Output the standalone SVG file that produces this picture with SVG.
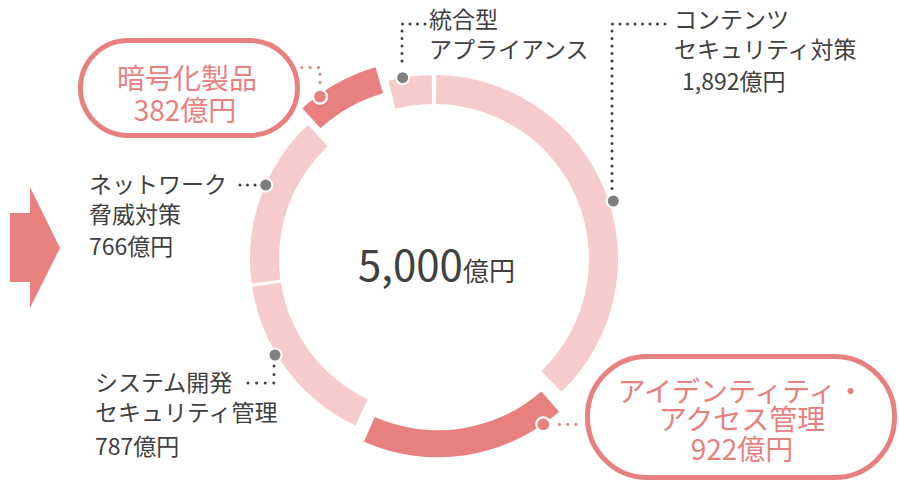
<svg xmlns="http://www.w3.org/2000/svg" width="899" height="482" viewBox="0 0 899 482">
<style>
.t{font-family:"Noto Sans CJK JP","Liberation Sans",sans-serif;fill:#404040;font-size:23px}
.p{font-family:"Noto Sans CJK JP","Liberation Sans",sans-serif;fill:#E98080;font-size:28px;text-anchor:middle}
.light{fill:#F6CBCB}
.dark{fill:#E98080}
.lg{fill:none;stroke:#404040;stroke-width:3;stroke-linecap:round;stroke-dasharray:0 7.5}
.lp{fill:none;stroke:#E98080;stroke-width:3.2;stroke-linecap:round;stroke-dasharray:0 8.3}
.mg{fill:#7F7F7F;stroke:#fff;stroke-width:2}
.mp{fill:#E98080;stroke:#fff;stroke-width:2.2}
.pill{fill:#fff;stroke:#E98080;stroke-width:5}
</style>
<rect width="899" height="482" fill="#fff"/>
<g id="arrow"><path class="dark" d="M10,213 H30 V187 L60,248 L30,308 V282 H10 Z"/></g>
<g id="ring">
<path id="seg-content" class="light" d="M436.25,75.01 A184,184 0 0 1 561.35,391.81 L541.28,370.88 A155,155 0 0 0 435.89,104.01 Z"/>
<path id="seg-identity" class="dark" d="M559.10,411.74 A184,184 0 0 1 363.95,441.79 L374.80,417.06 A157,157 0 0 0 541.32,391.43 Z"/>
<path id="seg-system" class="light" d="M355.36,425.35 A184,184 0 0 1 252.12,286.84 L280.78,282.45 A155,155 0 0 0 367.75,399.14 Z"/>
<path id="seg-network" class="light" d="M251.66,283.66 A184,184 0 0 1 307.81,125.08 L327.70,146.19 A155,155 0 0 0 280.39,279.77 Z"/>
<path id="seg-encryption" class="dark" d="M302.29,108.34 A184,184 0 0 1 375.58,67.21 L383.06,93.15 A157,157 0 0 0 320.53,128.24 Z"/>
<path id="seg-appliance" class="light" d="M388.24,80.78 A184,184 0 0 1 431.75,75.01 L432.11,104.01 A155,155 0 0 0 395.45,108.87 Z"/>
</g>
<g id="connectors">
<path class="lg" d="M425,24 H402 V68"/>
<path class="lg" d="M665,24 H612 V195"/>
<path class="lg" d="M240,185 H260"/>
<path class="lg" style="stroke-dasharray:0 8.6" d="M248,383 H274 V362"/>
<path class="lp" d="M293.5,67.5 H320 V90"/>
<path class="lp" d="M576,424.3 H552"/>
</g>
<g id="markers">
<circle class="mg" cx="402.7" cy="77.7" r="6.5"/>
<circle class="mg" cx="613.3" cy="201" r="6.5"/>
<circle class="mg" cx="265.7" cy="185" r="6.5"/>
<circle class="mg" cx="275" cy="355" r="6.5"/>
<circle class="mp" cx="320" cy="96.7" r="7"/>
<circle class="mp" cx="543.3" cy="424.3" r="7"/>
</g>
<g id="center-label"><text class="t" x="358" y="281"><tspan style="font-size:42px">5,000</tspan><tspan style="font-size:26px">億円</tspan></text></g>
<g id="node-appliance"><text class="t" x="429" y="28">統合型</text><text class="t" x="429" y="58">アプライアンス</text></g>
<g id="node-content"><text class="t" x="674" y="28">コンテンツ</text><text class="t" x="674" y="58">セキュリティ対策</text><text class="t" x="682" y="90">1,892億円</text></g>
<g id="node-network"><text class="t" x="89" y="193">ネットワーク</text><text class="t" x="89" y="223">脅威対策</text><text class="t" x="89" y="255">766億円</text></g>
<g id="node-system"><text class="t" x="95" y="391">システム開発</text><text class="t" x="95" y="421">セキュリティ管理</text><text class="t" x="95" y="455">787億円</text></g>
<g id="node-encryption"><rect class="pill" x="80.5" y="40.5" width="217" height="95" rx="47.5"/><text class="p" x="187" y="89">暗号化製品</text><text class="p" x="185" y="121">382億円</text></g>
<g id="node-identity"><rect class="pill" x="587.5" y="356.5" width="307" height="121" rx="60"/><text class="p" x="741" y="402">アイデンティティ・</text><text class="p" x="742" y="430">アクセス管理</text><text class="p" x="742" y="460">922億円</text></g>
</svg>
